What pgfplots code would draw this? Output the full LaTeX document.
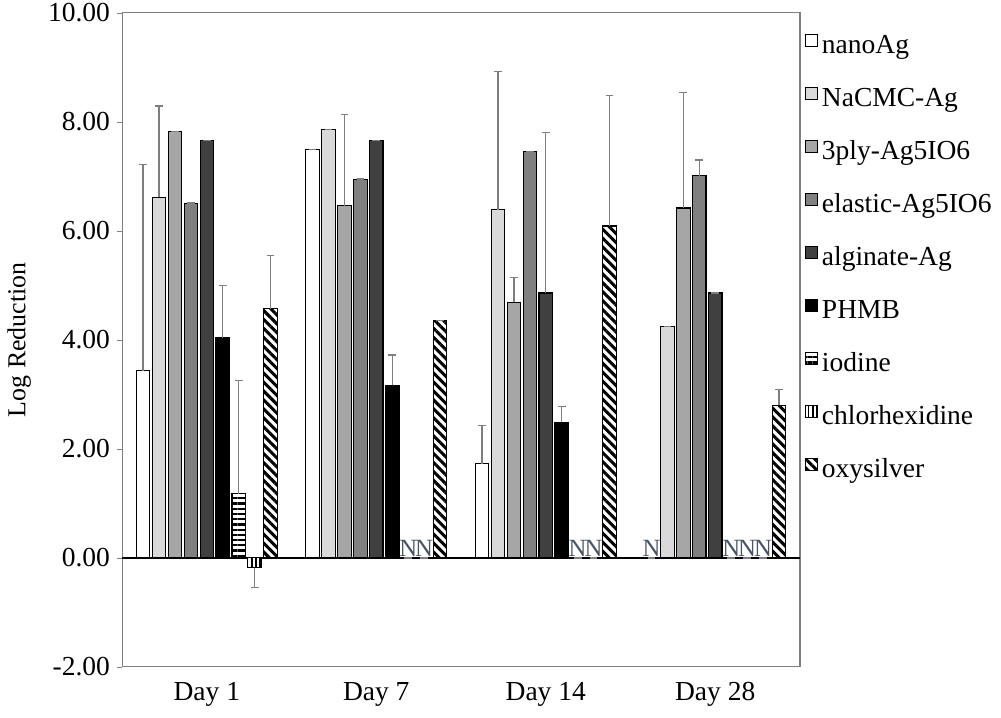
\documentclass[border=0pt]{standalone}
\usepackage{pgfplots}
\pgfplotsset{compat=1.18}
\usepackage{pgfplotstable}
\usepackage{fontspec}
\setmainfont{Liberation Serif}
\usetikzlibrary{patterns,patterns.meta}

\definecolor{gA}{HTML}{D9D9D9}
\definecolor{gB}{HTML}{A6A6A6}
\definecolor{gC}{HTML}{808080}
\definecolor{gD}{HTML}{404040}
\definecolor{errc}{HTML}{7F7F7F}
\definecolor{ncol}{HTML}{4A5468}

% columns: group, log reduction, error, N label
\pgfplotstableread{
x y ep m
0 3.43 3.79 {}
1 7.49 0    {}
2 1.73 0.70 {}
3 0    0    N
}\nanoag
\pgfplotstableread{
x y ep m
0 6.62 1.67 {}
1 7.86 0    {}
2 6.39 2.53 {}
3 4.25 0    {}
}\nacmc
\pgfplotstableread{
x y ep m
0 7.82 0    {}
1 6.46 1.67 {}
2 4.69 0.45 {}
3 6.42 2.12 {}
}\threeply
\pgfplotstableread{
x y ep m
0 6.51 0    {}
1 6.95 0    {}
2 7.45 0    {}
3 7.01 0.29 {}
}\elastic
\pgfplotstableread{
x y ep m
0 7.66 0    {}
1 7.66 0    {}
2 4.86 2.94 {}
3 4.86 0    {}
}\alginate
\pgfplotstableread{
x y ep m
0 4.04 0.96 {}
1 3.17 0.55 {}
2 2.49 0.29 {}
3 0    0    N
}\phmb
\pgfplotstableread{
x y ep m
0 1.18 2.07 {}
1 0    0    N
2 0    0    N
3 0    0    N
}\iodine
\pgfplotstableread{
x y ep m
0 -0.18 0.36 {}
1 0     0    N
2 0     0    N
3 0     0    N
}\chlorhex
\pgfplotstableread{
x y ep m
0 4.57 0.98 {}
1 4.36 0    {}
2 6.09 2.40 {}
3 2.80 0.29 {}
}\oxysilver

\pgfplotsset{
  sqleg/.style={legend image code/.code={\draw[##1] (0pt,0pt) rectangle (4.4pt,4.4pt);}},
}

\begin{document}
\begin{tikzpicture}
\begin{axis}[
  scale only axis,
  width=246.5pt, height=237.8pt,
  ybar=0.9pt, bar width=4.9pt,
  xmin=-0.5, xmax=3.5,
  ymin=-2, ymax=10,
  xtick=data,
  xticklabels={Day 1, Day 7, Day 14, Day 28},
  ytick={-2,0,...,10},
  ytick pos=left,
  extra y ticks={0},
  extra y tick labels={},
  extra y tick style={grid=major, major grid style={black, line width=0.6pt}, tick style={draw=none}},
  /pgf/number format/assume math mode=true,
  yticklabel style={/pgf/number format/.cd, fixed, fixed zerofill, precision=2, /tikz/.cd, xshift=1.1pt},
  tick align=outside,
  major tick length=2pt,
  ytick style={errc},
  xtick style={draw=none},
  axis line style={errc},
  ylabel={Log Reduction},
  ylabel style={font=\fontsize{9.4}{11}\selectfont, yshift=-4.7pt},
  nodes near coords,
  point meta=explicit symbolic,
  nodes near coords style={font=\small, text=ncol, anchor=south, inner sep=0.3pt},
  error bars/y dir=plus,
  error bars/y explicit,
  error bars/error bar style={errc, line width=0.5pt},
  error bars/error mark options={rotate=90, errc, mark size=1.4pt, line width=0.5pt},
  legend cell align=left,
  legend style={draw=none, fill=none, at={(1,1)}, anchor=north west,
    xshift=1.5pt, yshift=-7.3pt, inner sep=0pt, row sep=10.2pt,
    nodes={inner xsep=1.5pt, inner ysep=0pt, text height=7pt, text depth=2pt}},
  every axis plot/.append style={draw=black, line width=0.4pt},
]
\addplot[fill=white, sqleg] table[x=x, y=y, y error=ep, meta=m] {\nanoag};
\addplot[fill=gA, sqleg] table[x=x, y=y, y error=ep, meta=m] {\nacmc};
\addplot[fill=gB, sqleg] table[x=x, y=y, y error=ep, meta=m] {\threeply};
\addplot[fill=gC, sqleg] table[x=x, y=y, y error=ep, meta=m] {\elastic};
\addplot[fill=gD, sqleg] table[x=x, y=y, y error=ep, meta=m] {\alginate};
\addplot[fill=black, sqleg] table[x=x, y=y, y error=ep, meta=m] {\phmb};
\addplot[fill=white, postaction={pattern={Lines[angle=0, distance=1.9pt, line width=0.8pt]}}, sqleg]
  table[x=x, y=y, y error=ep, meta=m] {\iodine};
\addplot[fill=white, postaction={pattern={Lines[angle=90, distance=1.5pt, line width=0.7pt]}}, sqleg,
  error bars/y dir=minus]
  table[x=x, y=y, y error=ep, meta=m] {\chlorhex};
\addplot[fill=white, postaction={pattern={Lines[angle=-45, distance=2.3pt, line width=1.1pt]}}, sqleg]
  table[x=x, y=y, y error=ep, meta=m] {\oxysilver};
\legend{nanoAg, NaCMC-Ag, 3ply-Ag5IO6, elastic-Ag5IO6, alginate-Ag, PHMB, iodine, chlorhexidine, oxysilver}
\end{axis}
\pgfresetboundingbox
\path[use as bounding box] ([xshift=-44.4pt,yshift=-18.5pt]current axis.south west)
  rectangle ([xshift=73.1pt,yshift=4.7pt]current axis.north east);
\end{tikzpicture}
\end{document}
